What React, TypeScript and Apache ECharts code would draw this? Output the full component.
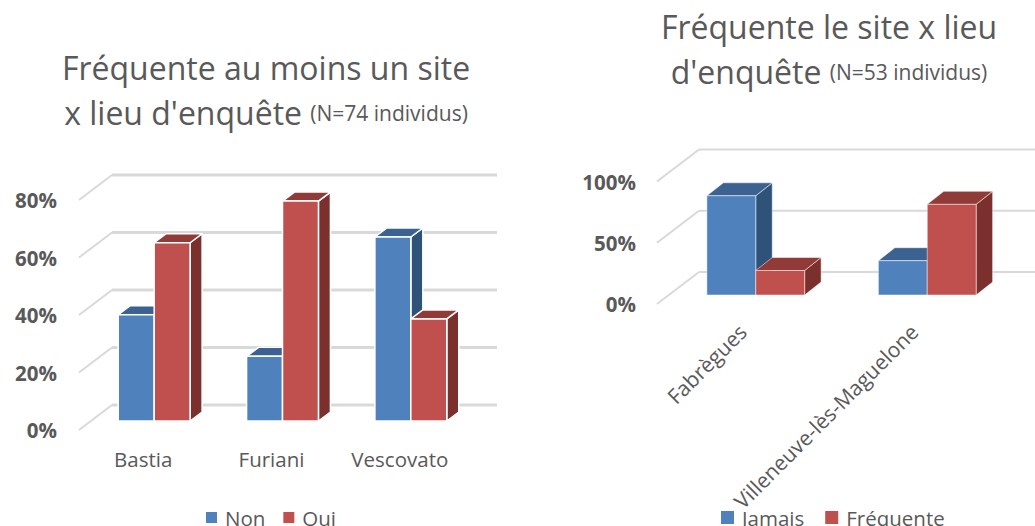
import React, { useEffect, useRef } from "react";
import * as echarts from "echarts";

const leftCategories = ["Bastia", "Furiani", "Vescovato"];
const leftNon = [37, 22.5, 64];
const leftOui = [62, 76.5, 35.5];
const leftTicks = [0, 20, 40, 60, 80];

const rightCategories = ["Fabrègues", "Villeneuve-lès-Maguelone"];
const rightJamais = [81, 28];
const rightFrequente = [20, 74];
const rightTicks = [0, 50, 100];

const FONT = '"Open Sans"';
const GREY = "#595959";
const BLUE = { front: "#4F81BD", top: "#3B6291", side: "#2F5279" };
const RED = { front: "#C0504D", top: "#913B38", side: "#7B302E" };

function barSeries(
  name: string, axis: number, values: number[], slot: number, pal: typeof BLUE,
  shift: number[], depth: number[], frac: number, stroke: number, z: number
) {
  return {
    type: "custom", name, xAxisIndex: axis, yAxisIndex: axis, silent: true, z,
    itemStyle: { color: pal.front },
    encode: { x: 0, y: 1 },
    data: values.map((v, i) => [i, v]),
    renderItem: (_p: any, api: any) => {
      const band = api.size([1, 0])[0];
      const w = band * frac;
      const c = api.coord([api.value(0), api.value(1)]);
      const b = api.coord([api.value(0), 0]);
      const x0 = c[0] + shift[0] + (slot - 1) * w;
      const x1 = x0 + w;
      const yT = c[1] + shift[1];
      const yB = b[1] + shift[1];
      const [dx, dy] = depth;
      const line = { stroke: "#ffffff", lineWidth: stroke, lineJoin: "round" };
      return {
        type: "group",
        children: [
          { type: "polygon", shape: { points: [[x1, yT], [x1 + dx, yT + dy], [x1 + dx, yB + dy], [x1, yB]] }, style: { fill: pal.side, ...line } },
          { type: "polygon", shape: { points: [[x0, yT], [x0 + dx, yT + dy], [x1 + dx, yT + dy], [x1, yT]] }, style: { fill: pal.top, ...line } },
          { type: "rect", shape: { x: x0, y: yT, width: w, height: yB - yT }, style: { fill: pal.front, ...line } },
        ],
      };
    },
  };
}

function gridSeries(axis: number, ticks: number[], depth: number[], backW: number, sideW: number) {
  return {
    type: "custom", name: "grid" + axis, xAxisIndex: axis, yAxisIndex: axis, silent: true, z: 1,
    encode: { x: 0, y: 1 },
    data: ticks.map((t) => [0, t]),
    renderItem: (p: any, api: any) => {
      const y = api.coord([0, api.value(1)])[1];
      const x = p.coordSys.x;
      const W = p.coordSys.width;
      const s = { stroke: "#D9D9D9", fill: "none" };
      return {
        type: "group",
        children: [
          { type: "line", shape: { x1: x, y1: y, x2: x + depth[0], y2: y + depth[1] }, style: { ...s, lineWidth: sideW } },
          { type: "line", shape: { x1: x + depth[0], y1: y + depth[1], x2: x + W + depth[0], y2: y + depth[1] }, style: { ...s, lineWidth: backW } },
        ],
      };
    },
  };
}

const yLabel = { color: GREY, fontFamily: FONT, fontWeight: "bold" as const, fontSize: 20.5, formatter: "{value}%" };
const hidden = { axisLine: { show: false }, axisTick: { show: false }, splitLine: { show: false } };
const richSmall = { s: { fontFamily: FONT, fontSize: 21, color: GREY, fontWeight: 500 } };

function titleOf(text: string, left: number, top: number) {
  return {
    text, left, top, textAlign: "center" as const,
    textStyle: { fontFamily: FONT, fontSize: 32, fontWeight: "normal" as const, color: GREY, lineHeight: 45, rich: richSmall },
  };
}

function legendOf(data: string[], left: number, gap: number, size: number) {
  return {
    data, left, top: 507, icon: "rect", itemWidth: size, itemHeight: size, itemGap: gap, padding: 0, selectedMode: false,
    textStyle: { fontFamily: FONT, fontSize: 20.5, color: GREY, padding: [0, 0, 0, 3] },
  };
}

export default function App() {
  const ref = useRef<HTMLDivElement>(null);
  useEffect(() => {
    document.body.style.margin = "0";
    const chart = echarts.init(ref.current!, null, { renderer: "svg" });
    chart.setOption({
      animation: false,
      backgroundColor: "#ffffff",
      title: [
        titleOf("Fréquente au moins un site\nx lieu d'enquête {s|(N=74 individus)}", 261, 40),
        titleOf("Fréquente le site x lieu\nd'enquête {s|(N=53 individus)}", 824, -1),
      ],
      legend: [legendOf(["Non", "Oui"], 206, 18, 11), legendOf(["Jamais", "Fréquente"], 721, 21, 13)],
      grid: [
        { left: 79, top: 200, width: 385, height: 230 },
        { left: 657, top: 181.5, width: 343, height: 122.5 },
      ],
      xAxis: [
        { gridIndex: 0, type: "category", data: leftCategories, ...hidden,
          axisLabel: { color: GREY, fontFamily: FONT, fontSize: 20.5, margin: 18, interval: 0 } },
        { gridIndex: 1, type: "category", data: rightCategories, ...hidden,
          axisLabel: { color: GREY, fontFamily: FONT, fontSize: 21, fontWeight: 500, margin: 24, interval: 0, rotate: 45 } },
      ],
      yAxis: [
        { gridIndex: 0, type: "value", min: 0, max: 80, interval: 20, ...hidden, axisLabel: { ...yLabel, margin: 22 } },
        { gridIndex: 1, type: "value", min: 0, max: 100, interval: 50, ...hidden, axisLabel: { ...yLabel, margin: 21 } },
      ],
      series: [
        gridSeries(0, leftTicks, [33, -25], 3, 2),
        gridSeries(1, rightTicks, [42, -32], 2, 2),
        barSeries("Non", 0, leftNon, 0, BLUE, [11, -9], [12, -9], 0.28, 1.5, 2),
        barSeries("Oui", 0, leftOui, 1, RED, [11, -9], [12, -9], 0.28, 1.5, 3),
        barSeries("Jamais", 1, rightJamais, 0, BLUE, [13, -9], [16.5, -13], 0.285, 0.5, 2),
        barSeries("Fréquente", 1, rightFrequente, 1, RED, [13, -9], [16.5, -13], 0.285, 0.5, 3),
      ],
    });
    return () => chart.dispose();
  }, []);
  return <div ref={ref} style={{ position: "absolute", left: 0, top: 0, width: 1035, height: 526 }} />;
}
